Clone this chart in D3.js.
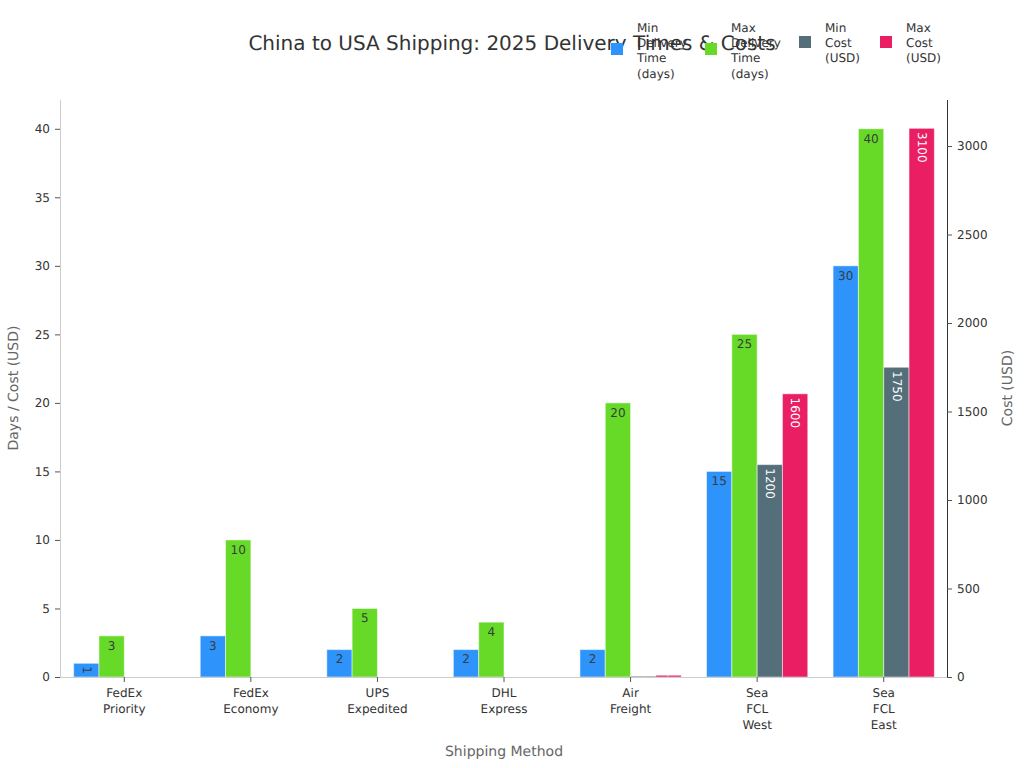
<!DOCTYPE html>
<html>
<head>
<meta charset="utf-8">
<script src="https://cdn.jsdelivr.net/npm/d3@7"></script>
<style>
  html, body { margin: 0; padding: 0; background: #fff; }
  svg { display: block; opacity: 0.999; }
  text { font-family: "DejaVu Sans", sans-serif; text-rendering: geometricPrecision; }
</style>
</head>
<body>
<svg id="chart" width="1024" height="768"></svg>
<script>
const methods = [
  ['FedEx', 'Priority'], ['FedEx', 'Economy'], ['UPS', 'Expedited'], ['DHL', 'Express'],
  ['Air', 'Freight'], ['Sea', 'FCL', 'West'], ['Sea', 'FCL', 'East']
]
const minDays = [1, 3, 2, 2, 2, 15, 30]
const maxDays = [3, 10, 5, 4, 20, 25, 40]
const minCost = [null, null, null, null, 5, 1200, 1750]
const maxCost = [null, null, null, null, 10, 1600, 3100]
const dayTicks = [0, 5, 10, 15, 20, 25, 30, 35, 40]
const costTicks = [0, 500, 1000, 1500, 2000, 2500, 3000]

const series = [
  { name: ['Min', 'Delivery', 'Time', '(days)'], values: minDays, color: '#2e93fa', axis: 'days', legendY: 43 },
  { name: ['Max', 'Delivery', 'Time', '(days)'], values: maxDays, color: '#66da26', axis: 'days', legendY: 43 },
  { name: ['Min', 'Cost', '(USD)'], values: minCost, color: '#546e7a', axis: 'cost', legendY: 36 },
  { name: ['Max', 'Cost', '(USD)'], values: maxCost, color: '#e91e63', axis: 'cost', legendY: 36 }
]

const plotL = 60, plotR = 947, plotT = 100, plotB = 677
const svg = d3.select('#chart')

const x = d3.scaleBand().domain(d3.range(methods.length)).range([61, plotR])
const yDays = d3.scaleLinear().domain([0, 42.1]).range([plotB, plotT])
const yCost = d3.scaleLinear().domain([0, 3260]).range([plotB, plotT])
const barW = x.bandwidth() * 0.2

// bars + labels
series.forEach((s, i) => {
  const y = s.axis === 'days' ? yDays : yCost
  const rows = s.values.map((v, k) => ({ v, k })).filter(d => d.v !== null)
  const xPos = d => x(d.k) + x.bandwidth() * 0.1 + i * barW

  svg.append('g').selectAll('rect').data(rows).enter().append('rect')
    .attr('x', xPos)
    .attr('y', d => y(d.v))
    .attr('width', barW)
    .attr('height', d => plotB - y(d.v))
    .attr('fill', s.color)
    .attr('stroke', '#fff')
    .attr('stroke-opacity', 0.5)
    .attr('stroke-width', 1)

  svg.append('g').selectAll('text').data(rows).enter().append('text')
    .attr('font-size', d => (s.axis === 'cost' && d.v < 100) ? 2 : 12)
    .attr('fill', s.axis === 'cost' ? '#fff' : '#373d3f')
    .attr('text-anchor', 'middle')
    .attr('dominant-baseline', 'middle')
    .attr('transform', d => {
      const cx = xPos(d) + barW / 2
      const rotated = s.axis === 'cost' || d.v === 1
      if (rotated) {
        const h = plotB - y(d.v)
        const off = d.v === 1 ? h / 2 : (d.v < 100 ? 1 : 19)
        return `translate(${cx - 0.5},${y(d.v) + off}) rotate(90)`
      }
      return `translate(${cx},${y(d.v) + 10.5})`
    })
    .text(d => d.v)
})

// axes
const leftAxis = svg.append('g').attr('transform', `translate(${plotL},0)`)
  .call(d3.axisLeft(yDays).tickValues(dayTicks).tickSize(5).tickPadding(5))
leftAxis.select('.domain').attr('stroke', '#ccc').attr('d', `M0.5,${plotT}V${plotB}`)
leftAxis.selectAll('.tick line').attr('stroke', '#555')
leftAxis.selectAll('text').attr('font-size', 12).attr('fill', '#333').attr('font-family', '"DejaVu Sans"')

const rightAxis = svg.append('g').attr('transform', `translate(${plotR},0)`)
  .call(d3.axisRight(yCost).tickValues(costTicks).tickFormat(d3.format('d')).tickSize(5).tickPadding(5))
rightAxis.select('.domain').attr('stroke', '#333').attr('d', `M0.5,${plotT}V${plotB}`)
rightAxis.selectAll('.tick line').attr('stroke', '#555')
rightAxis.selectAll('text').attr('font-size', 12).attr('fill', '#333').attr('font-family', '"DejaVu Sans"')

const bottomAxis = svg.append('g').attr('transform', `translate(0,${plotB})`)
  .call(d3.axisBottom(x).tickSize(5).tickFormat(''))
bottomAxis.select('.domain').attr('stroke', '#ccc').attr('d', `M${plotL},0.5H${plotR}`)
bottomAxis.selectAll('.tick line').attr('stroke', '#555')
bottomAxis.selectAll('.tick').each(function (k) {
  d3.select(this).select('text').remove()
  const label = d3.select(this).append('text')
    .attr('text-anchor', 'middle').attr('font-size', 12).attr('fill', '#333')
  label.selectAll('tspan').data(methods[k]).enter().append('tspan')
    .attr('x', 0)
    .attr('y', (d, j) => 20 + j * 16)
    .text(d => d)
})

// titles
svg.append('text').attr('x', 512).attr('y', 50).attr('text-anchor', 'middle')
  .attr('font-size', 20).attr('fill', '#333').text('China to USA Shipping: 2025 Delivery Times & Costs')
svg.append('text').attr('x', 504).attr('y', 756).attr('text-anchor', 'middle')
  .attr('font-size', 14).attr('fill', '#666').text('Shipping Method')
svg.append('text').attr('transform', 'translate(18,388) rotate(-90)').attr('text-anchor', 'middle')
  .attr('font-size', 14).attr('fill', '#666').text('Days / Cost (USD)')
svg.append('text').attr('transform', 'translate(1012,388) rotate(-90)').attr('text-anchor', 'middle')
  .attr('font-size', 14).attr('fill', '#666').text('Cost (USD)')

// legend
const legendX = [611, 705, 799, 880]
series.forEach((s, i) => {
  const g = svg.append('g')
  const lineH = 15.4
  g.append('rect').attr('x', legendX[i]).attr('y', s.legendY).attr('width', 12).attr('height', 12)
    .attr('fill', s.color)
  const t = g.append('text').attr('font-size', 12).attr('fill', '#333')
  t.selectAll('tspan').data(s.name).enter().append('tspan')
    .attr('x', legendX[i] + 26)
    .attr('y', (d, j) => 31.5 + j * lineH)
    .text(d => d)
})
</script>
</body>
</html>
